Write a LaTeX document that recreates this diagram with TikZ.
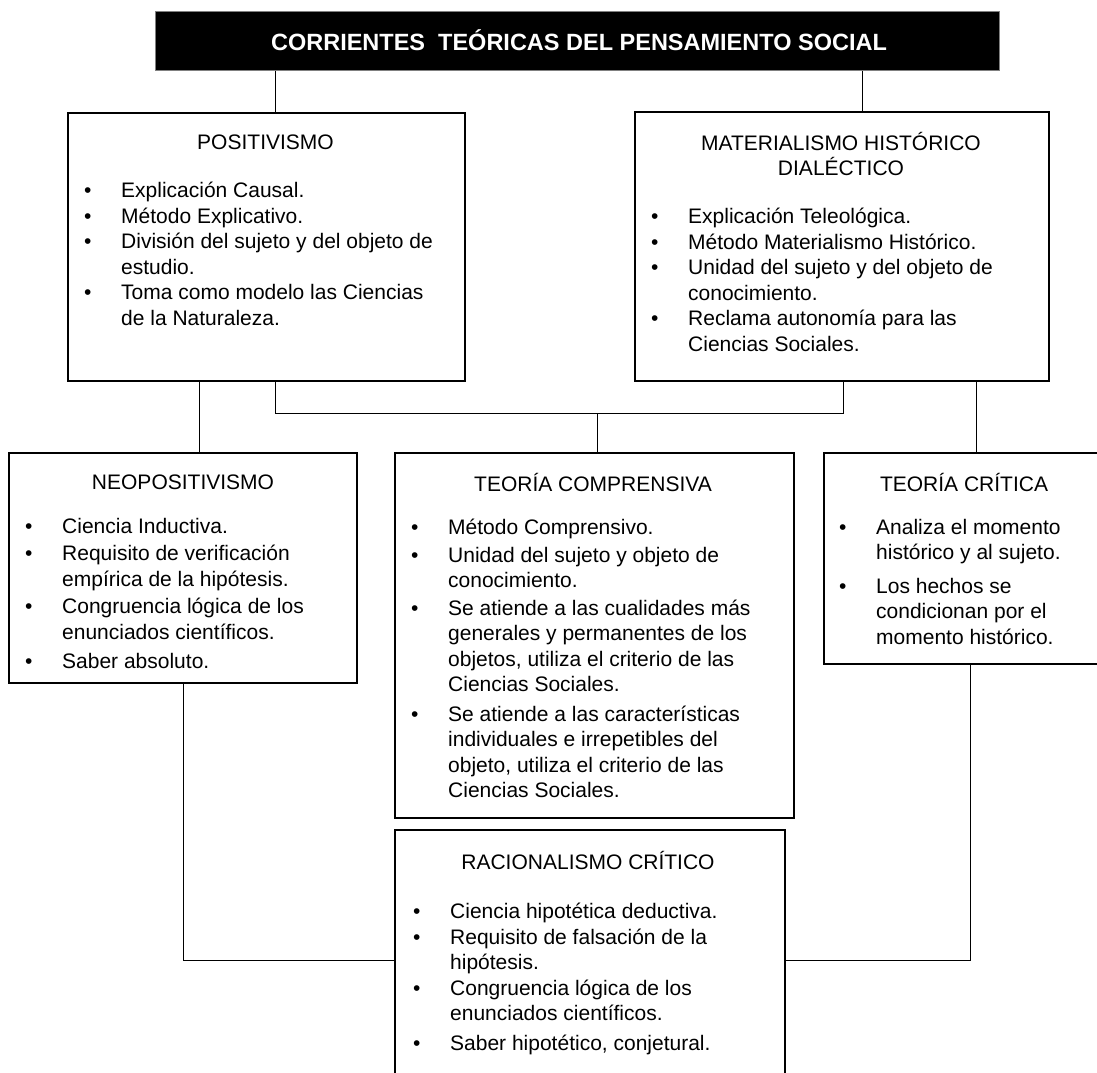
\documentclass[tikz,border=0pt]{standalone}
\usepackage{fontspec}
\setmainfont{Liberation Sans}
\newlength{\bw}\setlength{\bw}{37pt}
\newcommand{\bl}{\makebox[\bw][l]{\textbullet}}
\newcommand{\nl}{\hspace*{\bw}}

\begin{document}
\begin{tikzpicture}[x=1pt,y=-1pt,box/.style={draw=black,line width=1.6pt,inner sep=0pt,anchor=north west},hd/.style={align=center,font=\fontsize{21}{25}\selectfont},lst/.style={align=left,anchor=north west,inner sep=0pt,font=\fontsize{21}{25.5}\selectfont},link/.style={line width=1pt}]
\useasboundingbox (0,0) rectangle (1097,1072);

\coordinate (xa) at (275,0);
\coordinate (xb) at (862,0);
\coordinate (xc) at (843,0);
\coordinate (xd) at (597,0);
\coordinate (xe) at (199,0);
\coordinate (xf) at (976,0);
\coordinate (xg) at (183,0);
\coordinate (xh) at (970,0);
\coordinate (ya) at (0,413);
\coordinate (yb) at (0,960);

\node[box,fill=black,draw=gray,line width=0.6pt,minimum width=844,minimum height=59] (title) at (155,11) {};
\node[text=white,font=\fontsize{23.5}{27}\selectfont\bfseries] (titleT) at (579,40.5) {CORRIENTES\ \ TEÓRICAS DEL PENSAMIENTO SOCIAL};

\node[box,minimum width=397,minimum height=268] (posit) at (67,112) {};
\node[hd] (positT) at (265.5,142) {POSITIVISMO};
\node[lst] (positL) at (84,182) {\bl Explicación Causal.\\\bl Método Explicativo.\\\bl División del sujeto y del objeto de\\\nl estudio.\\\bl Toma como modelo las Ciencias\\\nl de la Naturaleza.};

\node[box,minimum width=414,minimum height=269] (mater) at (634,111) {};
\node[hd] (materT) at (841,153.5) {MATERIALISMO HISTÓRICO\\DIALÉCTICO};
\node[lst] (materL) at (651,208) {\bl Explicación Teleológica.\\\bl Método Materialismo Histórico.\\\bl Unidad del sujeto y del objeto de\\\nl conocimiento.\\\bl Reclama autonomía para las\\\nl Ciencias Sociales.};

\node[box,minimum width=348,minimum height=230] (neo) at (8,452) {};
\node[hd] (neoT) at (183,482) {NEOPOSITIVISMO};
\node[lst] (neoL) at (25,518) {\bl Ciencia Inductiva.\\[2pt]\bl Requisito de verificación\\\nl empírica de la hipótesis.\\[2pt]\bl Congruencia lógica de los\\\nl enunciados científicos.\\[4pt]\bl Saber absoluto.};

\node[box,minimum width=399,minimum height=365] (compr) at (394,452) {};
\node[hd] (comprT) at (593,482) {TEORÍA COMPRENSIVA};
\node[lst] (comprL) at (411,519) {\bl Método Comprensivo.\\[2pt]\bl Unidad del sujeto y objeto de\\\nl conocimiento.\\[2pt]\bl Se atiende a las cualidades más\\\nl generales y permanentes de los\\\nl objetos, utiliza el criterio de las\\\nl Ciencias Sociales.\\[4pt]\bl Se atiende a las características\\\nl individuales e irrepetibles del\\\nl objeto, utiliza el criterio de las\\\nl Ciencias Sociales.};

\node[box,minimum width=290,minimum height=211] (crit) at (823,452) {};
\node[hd] (critT) at (964,482) {TEORÍA CRÍTICA};
\node[lst] (critL) at (839,519) {\bl Analiza el momento\\\nl histórico y al sujeto.\\[8pt]\bl Los hechos se\\\nl condicionan por el\\\nl momento histórico.};

\node[box,minimum width=390,minimum height=260] (racio) at (394,829) {};
\node[hd] (racioT) at (588,860) {RACIONALISMO CRÍTICO};
\node[lst] (racioL) at (413,903) {\bl Ciencia hipotética deductiva.\\\bl Requisito de falsación de la\\\nl hipótesis.\\\bl Congruencia lógica de los\\\nl enunciados científicos.\\[4pt]\bl Saber hipotético, conjetural.};

\draw[link] (xa |- title.south) -- (xa |- posit.north);
\draw[link] (xb |- title.south) -- (xb |- mater.north);
\draw[link] (xa |- posit.south) -- (xa |- ya) -- (xc |- ya) -- (xc |- mater.south);
\draw[link] (xd |- ya) -- (xd |- compr.north);
\draw[link] (xe |- posit.south) -- (xe |- neo.north);
\draw[link] (xf |- mater.south) -- (xf |- crit.north);
\draw[link] (xg |- neo.south) -- (xg |- yb) -- (racio.west |- yb);
\draw[link] (xh |- crit.south) -- (xh |- yb) -- (racio.east |- yb);

\end{tikzpicture}
\end{document}
